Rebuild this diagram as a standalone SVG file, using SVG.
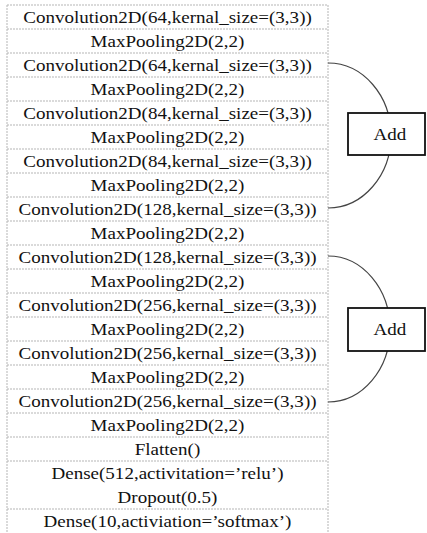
<svg xmlns="http://www.w3.org/2000/svg" width="427" height="533" viewBox="0 0 427 533">
<style>
.t{font-family:"Liberation Serif","Times New Roman",serif;font-size:17px;fill:#111;text-anchor:middle}
.grid{stroke:#b5b5b5;stroke-width:1;stroke-dasharray:2,1;fill:none}
.conn{stroke:#444;stroke-width:1.2;fill:none}
.box{fill:#fff;stroke:#111;stroke-width:1.8}
</style>
<rect width="427" height="533" fill="#fff"/>
<g id="grid">
<line class="grid" x1="7" y1="5" x2="7" y2="533"/>
<line class="grid" x1="328" y1="5" x2="328" y2="533"/>
<line class="grid" x1="7" y1="5" x2="328" y2="5"/>
<line class="grid" x1="7" y1="29" x2="328" y2="29"/>
<line class="grid" x1="7" y1="53" x2="328" y2="53"/>
<line class="grid" x1="7" y1="77" x2="328" y2="77"/>
<line class="grid" x1="7" y1="101" x2="328" y2="101"/>
<line class="grid" x1="7" y1="125" x2="328" y2="125"/>
<line class="grid" x1="7" y1="149" x2="328" y2="149"/>
<line class="grid" x1="7" y1="173" x2="328" y2="173"/>
<line class="grid" x1="7" y1="197" x2="328" y2="197"/>
<line class="grid" x1="7" y1="221" x2="328" y2="221"/>
<line class="grid" x1="7" y1="245" x2="328" y2="245"/>
<line class="grid" x1="7" y1="269" x2="328" y2="269"/>
<line class="grid" x1="7" y1="293" x2="328" y2="293"/>
<line class="grid" x1="7" y1="317" x2="328" y2="317"/>
<line class="grid" x1="7" y1="341" x2="328" y2="341"/>
<line class="grid" x1="7" y1="365" x2="328" y2="365"/>
<line class="grid" x1="7" y1="389" x2="328" y2="389"/>
<line class="grid" x1="7" y1="413" x2="328" y2="413"/>
<line class="grid" x1="7" y1="437" x2="328" y2="437"/>
<line class="grid" x1="7" y1="461" x2="328" y2="461"/>
<line class="grid" x1="7" y1="509" x2="328" y2="509"/>
</g>
<g id="connectors">
<path class="conn" d="M328,63 A63,72.5 0 0 1 328,208"/>
<path class="conn" d="M328,256 A62,73 0 0 1 328,402"/>
</g>
<g id="r1"><text class="t" transform="matrix(1.12 0 0 1 167.5 23)">Convolution2D(64,kernal_size=(3,3))</text></g>
<g id="r2"><text class="t" transform="matrix(1.12 0 0 1 167.5 47)">MaxPooling2D(2,2)</text></g>
<g id="r3"><text class="t" transform="matrix(1.12 0 0 1 167.5 71)">Convolution2D(64,kernal_size=(3,3))</text></g>
<g id="r4"><text class="t" transform="matrix(1.12 0 0 1 167.5 95)">MaxPooling2D(2,2)</text></g>
<g id="r5"><text class="t" transform="matrix(1.12 0 0 1 167.5 119)">Convolution2D(84,kernal_size=(3,3))</text></g>
<g id="r6"><text class="t" transform="matrix(1.12 0 0 1 167.5 143)">MaxPooling2D(2,2)</text></g>
<g id="r7"><text class="t" transform="matrix(1.12 0 0 1 167.5 167)">Convolution2D(84,kernal_size=(3,3))</text></g>
<g id="r8"><text class="t" transform="matrix(1.12 0 0 1 167.5 191)">MaxPooling2D(2,2)</text></g>
<g id="r9"><text class="t" transform="matrix(1.12 0 0 1 167.5 215)">Convolution2D(128,kernal_size=(3,3))</text></g>
<g id="r10"><text class="t" transform="matrix(1.12 0 0 1 167.5 239)">MaxPooling2D(2,2)</text></g>
<g id="r11"><text class="t" transform="matrix(1.12 0 0 1 167.5 263)">Convolution2D(128,kernal_size=(3,3))</text></g>
<g id="r12"><text class="t" transform="matrix(1.12 0 0 1 167.5 287)">MaxPooling2D(2,2)</text></g>
<g id="r13"><text class="t" transform="matrix(1.12 0 0 1 167.5 311)">Convolution2D(256,kernal_size=(3,3))</text></g>
<g id="r14"><text class="t" transform="matrix(1.12 0 0 1 167.5 335)">MaxPooling2D(2,2)</text></g>
<g id="r15"><text class="t" transform="matrix(1.12 0 0 1 167.5 359)">Convolution2D(256,kernal_size=(3,3))</text></g>
<g id="r16"><text class="t" transform="matrix(1.12 0 0 1 167.5 383)">MaxPooling2D(2,2)</text></g>
<g id="r17"><text class="t" transform="matrix(1.12 0 0 1 167.5 407)">Convolution2D(256,kernal_size=(3,3))</text></g>
<g id="r18"><text class="t" transform="matrix(1.12 0 0 1 167.5 431)">MaxPooling2D(2,2)</text></g>
<g id="r19"><text class="t" transform="matrix(1.12 0 0 1 167.5 455)">Flatten()</text></g>
<g id="r20"><text class="t" transform="matrix(1.12 0 0 1 167.5 479)">Dense(512,activitation=’relu’)</text></g>
<g id="r21"><text class="t" transform="matrix(1.12 0 0 1 167.5 503)">Dropout(0.5)</text></g>
<g id="r22"><text class="t" transform="matrix(1.12 0 0 1 167.5 527)">Dense(10,activiation=’softmax’)</text></g>
<g id="add1"><rect class="box" x="348" y="113" width="77" height="42"/><text class="t" transform="matrix(1.12 0 0 1 390 140)">Add</text></g>
<g id="add2"><rect class="box" x="348" y="308" width="77" height="43"/><text class="t" transform="matrix(1.12 0 0 1 390 335)">Add</text></g>
</svg>
